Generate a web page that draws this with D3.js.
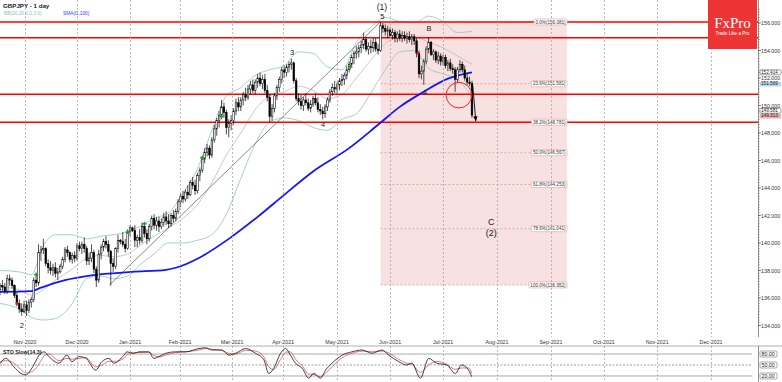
<!DOCTYPE html>
<html><head><meta charset="utf-8">
<script src="https://cdn.jsdelivr.net/npm/d3@7"></script>
<style>body{margin:0;background:#fff;overflow:hidden}svg{display:block;font-family:"Liberation Sans",Arial,sans-serif}</style>
</head><body><svg id="c" width="782" height="382"></svg>
<script>
// ---------- DATA ----------
const monthLabels = ["Nov-2020","Dec-2020","Jan-2021","Feb-2021","Mar-2021","Apr-2021","May-2021","Jun-2021","Jul-2021","Aug-2021","Sep-2021","Oct-2021","Nov-2021","Dec-2021"];
const monthTickIdx = [10.4,32,54,74.8,96.4,117.6,140,162,184,206.4,228.8,250.8,272.9,295.3];

const opens = [136.6,136.9,136.8,136.5,137.4,137.3,136.9,136.2,135.6,135.2,
135.0,135.5,135.1,135.7,135.9,137.3,137.1,139.3,139.5,139.6,
138.5,138.2,138.0,138.2,137.8,137.9,138.3,138.8,139.5,139.3,
138.8,139.1,138.9,139.8,139.6,139.9,139.6,138.7,138.9,139.3,
138.1,137.3,139.2,139.7,140.1,139.9,139.4,138.5,138.3,139.6,
140.2,140.1,139.9,139.6,140.8,141.1,140.9,140.2,140.4,140.2,
141.2,140.7,140.3,141.2,141.8,141.3,141.6,141.2,141.5,141.9,
141.6,141.4,142.0,141.8,142.3,143.0,143.4,143.2,143.7,143.5,
144.4,144.2,143.8,144.9,145.3,146.1,146.6,146.9,146.4,147.5,
148.3,148.9,149.3,149.9,149.5,148.4,148.7,148.9,149.6,150.2,
149.9,150.4,150.8,150.6,151.2,151.5,151.1,151.7,152.0,151.6,
151.9,151.1,150.6,149.2,149.8,150.7,151.3,151.9,152.6,152.4,
152.8,153.0,153.1,151.8,150.5,150.3,150.0,150.4,150.2,149.8,
150.1,150.5,150.2,149.7,149.6,149.4,149.9,150.4,151.0,151.3,
151.2,151.5,151.8,151.9,152.2,152.6,153.0,153.5,153.8,153.9,
154.2,154.4,154.8,154.1,154.3,154.2,154.6,154.1,154.0,155.8,
155.6,155.4,155.5,155.1,155.3,154.9,155.2,154.9,155.1,154.9,
155.0,154.8,155.0,154.7,153.8,152.3,152.5,153.2,154.1,154.6,
153.7,153.9,153.3,153.6,153.2,153.5,152.9,153.1,152.7,152.6,
151.9,152.6,153.0,152.6,152.0,151.7,151.6];
const highs = [137.1,137.3,137.1,137.7,137.7,137.5,137.0,136.4,135.9,135.6,
135.8,135.8,135.9,136.1,137.5,137.8,139.9,139.8,140.3,139.7,
138.8,138.7,138.5,138.6,138.2,138.5,139.0,139.7,139.8,139.4,
139.3,139.4,140.0,140.1,140.1,140.4,139.8,139.3,139.9,139.5,
138.3,139.5,139.9,140.3,140.5,140.2,139.5,138.9,139.7,140.6,
140.3,140.8,140.3,141.0,141.3,141.2,141.3,140.6,141.0,141.5,
141.5,141.0,141.4,142.0,142.1,141.9,141.9,141.8,142.2,142.3,
142.1,142.2,142.4,142.5,143.2,143.6,143.8,143.9,144.2,144.6,
144.8,144.6,145.1,145.5,146.3,146.9,147.2,147.1,147.7,148.6,
149.1,149.6,150.4,150.2,149.7,149.0,149.3,149.8,150.5,150.6,
150.6,151.0,151.3,151.5,151.8,151.9,151.9,152.3,152.4,152.2,
152.3,151.5,150.8,150.1,150.9,151.5,152.1,152.8,152.9,153.0,
153.2,153.4,153.2,152.0,150.9,150.8,150.6,150.9,150.5,150.4,
150.7,150.9,150.6,150.1,149.9,150.1,150.6,151.2,151.6,151.8,
151.7,152.0,152.3,152.4,152.9,153.2,153.7,154.0,154.3,154.4,
154.7,155.3,155.0,154.6,154.8,154.9,154.9,154.5,156.08,156.0,
155.9,155.8,155.7,155.6,155.5,155.4,155.5,155.4,155.4,155.3,
155.4,155.2,155.2,154.9,154.0,152.9,153.4,154.3,154.95,154.7,
154.1,154.0,153.9,153.8,153.7,153.7,153.3,153.4,153.0,152.8,
152.8,153.3,153.2,152.9,152.3,152.1,151.8];
const lows = [136.2,136.5,136.3,136.3,136.9,136.7,136.0,135.4,134.9,134.7,
134.9,134.7,134.9,135.3,135.7,136.8,136.9,138.7,139.2,138.3,
137.8,137.7,137.6,137.5,137.3,137.8,138.1,138.6,139.0,138.6,
138.5,138.6,138.7,139.4,139.2,139.3,138.4,138.4,138.6,137.8,
136.8,137.1,138.8,139.4,139.6,139.0,136.9,137.9,138.1,139.3,
139.9,139.7,139.3,139.5,140.5,140.8,139.7,139.7,139.9,140.0,
140.4,139.9,140.1,140.9,141.0,140.9,140.8,141.0,141.2,141.3,
141.1,141.2,141.5,141.6,142.1,142.6,142.9,143.0,143.2,143.4,
143.9,143.5,143.6,144.5,145.1,145.8,146.3,146.1,146.2,147.3,
147.8,148.4,149.0,149.1,147.9,147.7,148.2,148.6,149.3,149.6,
149.6,150.0,150.3,150.4,150.8,150.9,150.8,151.3,151.4,151.2,
150.9,150.3,148.8,148.9,149.5,150.4,151.0,151.6,152.0,152.1,
152.4,152.6,151.6,150.3,150.0,149.7,149.6,150.0,149.6,149.5,
149.9,150.0,149.5,149.3,149.0,149.1,149.6,150.2,150.7,150.9,
150.8,151.1,151.4,151.5,151.9,152.4,152.8,153.0,153.4,153.5,
153.8,154.1,153.9,153.7,153.8,153.9,153.9,153.7,153.9,155.3,
155.1,154.9,154.9,154.8,154.6,154.6,154.7,154.6,154.7,154.5,
154.6,154.4,154.4,153.5,152.0,151.9,151.5,153.0,153.8,153.6,
153.3,153.1,153.0,152.9,152.9,152.7,152.5,152.5,152.3,151.0,
151.7,152.4,152.4,151.8,151.5,151.4,149.1];
const closes = [136.9,136.8,136.5,137.4,137.3,136.9,136.2,135.6,135.2,135.0,
135.5,135.1,135.7,135.9,137.3,137.1,139.3,139.5,139.6,138.5,
138.2,138.0,138.2,137.8,137.9,138.3,138.8,139.5,139.3,138.8,
139.1,138.9,139.8,139.6,139.9,139.6,138.7,138.9,139.3,138.1,
137.3,139.2,139.7,140.1,139.9,139.4,138.5,138.3,139.6,140.2,
140.1,139.9,139.6,140.8,141.1,140.9,140.2,140.4,140.2,141.2,
140.7,140.3,141.2,141.8,141.3,141.6,141.2,141.5,141.9,141.6,
141.4,142.0,141.8,142.3,143.0,143.4,143.2,143.7,143.5,144.4,
144.2,143.8,144.9,145.3,146.1,146.6,146.9,146.4,147.5,148.3,
148.9,149.3,149.9,149.5,148.4,148.7,148.9,149.6,150.2,149.9,
150.4,150.8,150.6,151.2,151.5,151.1,151.7,152.0,151.6,151.9,
151.1,150.6,149.2,149.8,150.7,151.3,151.9,152.6,152.4,152.8,
153.0,153.1,151.8,150.5,150.3,150.0,150.4,150.2,149.8,150.1,
150.5,150.2,149.7,149.6,149.4,149.9,150.4,151.0,151.3,151.2,
151.5,151.8,151.9,152.2,152.6,153.0,153.5,153.8,153.9,154.2,
154.4,154.8,154.1,154.3,154.2,154.6,154.1,154.0,155.8,155.6,
155.4,155.5,155.1,155.3,154.9,155.2,154.9,155.1,154.9,155.0,
154.8,155.0,154.7,153.8,152.3,152.5,153.2,154.1,154.6,153.7,
153.9,153.3,153.6,153.2,153.5,152.9,153.1,152.7,152.6,151.9,
152.6,153.0,152.6,152.0,151.7,151.6,149.3];

// SMA(100) (bar index -> value)
const smaIdx = [0,13,17,27,38,55,69,73,83,95,107,118,130,145,157,166,176,186,196];
const smaVal = [136.45,136.5,136.75,137.3,137.65,137.9,138.05,138.2,138.95,140.3,141.9,143.5,145.2,146.9,148.6,149.9,151.0,151.95,152.41];

// Bollinger bands
const bbIdx   = [0,8,13,18,23,30,36,42,47,53,58,64,70,76,82,88,94,100,106,112,118,124,130,136,142,148,154,160,166,172,178,184,190,196];
const bbUpper = [138.0,137.9,137.7,139.8,140.6,140.6,140.3,140.5,140.6,140.8,141.2,141.8,142.2,143.6,145.4,148.2,150.7,151.3,152.2,152.6,152.9,153.9,153.8,152.8,152.6,154.6,155.7,156.4,156.1,156.0,156.5,156.1,155.3,155.4];
const bbMid   = [136.8,136.6,136.2,136.6,137.3,138.1,138.9,139.1,139.0,139.2,139.8,140.5,141.1,141.8,142.8,144.4,146.4,148.0,149.7,150.7,151.0,151.4,151.1,150.5,150.8,152.0,153.3,154.5,155.0,155.0,154.6,154.2,153.6,153.0];
const bbLower = [135.6,135.2,134.6,134.4,134.5,135.6,137.4,137.6,137.4,137.6,138.4,139.2,140.0,140.0,140.2,140.6,142.1,144.7,147.2,148.8,149.1,148.9,148.4,148.2,149.0,149.4,150.9,152.6,153.9,154.0,152.7,152.3,151.9,150.6];

// Stochastic slow (14,3)
const stoIdx = [0,2.4,5.8,8.6,10.7,13.3,16.9,18.3,20.3,24.5,27.8,29.9,32.8,35.6,39.7,42.3,45.2,47.3,51.5,52.7,55.6,57.7,61.8,63.9,66,68.8,72.9,77.1,82.6,85.4,88,92.1,95,97.8,102,106.1,109.6,111.6,113.7,116.5,118.6,120.6,122.7,125.5,128.2,130.3,133.1,135.2,137.9,142.1,146.2,150.4,154.5,158.6,161.4,165.6,168.9,171,174.6,178,181.3,185.5,189.1,191.7,194.6,195.9];
const stoK = [54,68,45,27,23,42,82,86,73,55,77,59,73,69,36,59,68,55,77,86,82,86,86,68,73,82,86,86,95,97,91,91,77,82,95,82,64,27,41,82,95,77,55,41,14,27,14,36,55,77,86,91,82,91,77,59,50,55,14,68,55,50,27,50,36,18];
const stoD = [58,62,55,38,28,32,60,75,80,62,68,66,68,70,45,50,60,60,68,78,83,84,85,76,72,77,84,86,91,95,93,90,82,80,90,88,72,45,38,65,85,86,66,48,25,24,18,28,45,70,82,88,86,88,83,65,55,52,30,50,60,52,38,42,42,28];

const hLevels = [156.081,154.93,150.82,148.781];
const fibPct = ["0.0%","23.6%","38.2%","50.0%","61.8%","78.6%","100.0%"];
const fibVal = [156.081,151.581,148.781,146.567,144.253,141.041,136.952];
const fibRange = [158,235.5];

const priceTicks = [134,136,138,140,142,144,146,148,150,152,154,156];
const sideLabels = [
  {t:"152.414", v:152.414, kind:"box"},
  {t:"151.569", v:151.569, kind:"blue"},
  {t:"149.581", v:149.581, kind:"box"},
  {t:"149.313", v:149.313, kind:"pink"}];
const stoLevels = [80,50,20];

const waveText = ["(1)","5","3","4","2","A","B","C","(2)"];
const waveIdx  = [158.6,158.8,121.3,134.2,9.1,176.5,178.2,204,204];
const waveVal  = [157.2,156.5,153.85,148.62,134.0,150.95,155.6,141.55,140.72];
const waveSize = [8.5,7.5,7.5,7.5,7.5,7,7.5,9,9];

const greenMarks = [[15,137.7],[53,140.8],[60,141.4],[84,146.2],[92,149.2],[145.5,152.8]];
const redMarks = [[7,135.6],[173.5,153.8]];
const trendIdx = [45.5,158], trendVal = [136.95,156.08];
const arrowIdx = [196.3,197.6], arrowVal = [151.5,148.85];
const circleIdx = 190.6, circleVal = 150.75;

// ---------- SCALES ----------
const W=782, H=382, plotR=758, mainTop=0, mainBot=337, stoTop=346, stoBot=382;
const x = d3.scaleLinear().domain([0,312]).range([0,751.3]);
const y = d3.scaleLinear().domain([148,156]).range([133,23]);
const ys = d3.scaleLinear().domain([0,100]).range([383.3,346.7]);

const svg = d3.select("#c");
svg.append("rect").attr("width",W).attr("height",H).attr("fill","#fff");
svg.append("defs").append("clipPath").attr("id","mc").append("rect").attr("x",0).attr("y",mainTop).attr("width",plotR).attr("height",mainBot-mainTop);
svg.select("defs").append("clipPath").attr("id","sc").append("rect").attr("x",0).attr("y",stoTop).attr("width",plotR-6).attr("height",stoBot-stoTop);
const g = svg.append("g").attr("clip-path","url(#mc)");

// fib box
g.append("rect").attr("x",x(fibRange[0])).attr("width",x(fibRange[1])-x(fibRange[0]))
 .attr("y",y(fibVal[0])).attr("height",y(fibVal[6])-y(fibVal[0])).attr("fill","#f8e1e1");

// grid
monthTickIdx.forEach(t=>{
  svg.append("line").attr("x1",Math.round(x(t))+0.5).attr("x2",Math.round(x(t))+0.5).attr("y1",mainTop).attr("y2",mainBot)
   .attr("stroke","#a8a8a8").attr("stroke-width",0.8).attr("stroke-dasharray","2,2");
  svg.append("line").attr("x1",Math.round(x(t))+0.5).attr("x2",Math.round(x(t))+0.5).attr("y1",stoTop).attr("y2",stoBot)
   .attr("stroke","#a8a8a8").attr("stroke-width",0.8).attr("stroke-dasharray","2,2");
});

// fib dashed lines
fibVal.forEach(v=>{
  g.append("line").attr("x1",x(fibRange[0])).attr("x2",x(fibRange[1])).attr("y1",y(v)).attr("y2",y(v))
   .attr("stroke","#e09a9a").attr("stroke-width",0.8).attr("stroke-dasharray","2,2");
});

// Bollinger
const mk = (idx,vals)=>d3.line().x((d,i)=>x(idx[i])).y(d=>y(d)).curve(d3.curveMonotoneX)(vals);
g.append("path").attr("d",mk(bbIdx,bbUpper)).attr("fill","none").attr("stroke","#9cc8c8").attr("stroke-width",0.9);
g.append("path").attr("d",mk(bbIdx,bbLower)).attr("fill","none").attr("stroke","#9cc8c8").attr("stroke-width",0.9);
g.append("path").attr("d",mk(bbIdx,bbMid)).attr("fill","none").attr("stroke","#a9b4b4").attr("stroke-width",0.7);

// trendline
g.append("line").attr("x1",x(trendIdx[0])).attr("y1",y(trendVal[0])).attr("x2",x(trendIdx[1])).attr("y2",y(trendVal[1]))
 .attr("stroke","#555").attr("stroke-width",0.7);

// horizontal red lines
hLevels.forEach(v=>{
  g.append("line").attr("x1",0).attr("x2",plotR).attr("y1",y(v)).attr("y2",y(v)).attr("stroke","#ff0000").attr("stroke-width",1.5);
});

// SMA
g.append("path").attr("d",mk(smaIdx,smaVal)).attr("fill","none").attr("stroke","#1414ff").attr("stroke-width",1.8);

// candles
const bars = closes.map((c,i)=>({i,o:opens[i],h:highs[i],l:lows[i],c}));
g.selectAll("line.wk").data(bars).join("line").attr("class","wk")
 .attr("x1",d=>x(d.i)).attr("x2",d=>x(d.i)).attr("y1",d=>y(d.h)).attr("y2",d=>y(d.l))
 .attr("stroke","#000").attr("stroke-width",0.7);
g.selectAll("rect.bd").data(bars).join("rect").attr("class","bd")
 .attr("x",d=>x(d.i)-0.8).attr("width",1.6)
 .attr("y",d=>y(Math.max(d.o,d.c))).attr("height",d=>Math.max(0.7,Math.abs(y(d.o)-y(d.c))))
 .attr("fill",d=>d.c>=d.o?"#fff":"#000").attr("stroke","#000").attr("stroke-width",0.55);

// markers
greenMarks.forEach(([i,v])=>{
  g.append("path").attr("d",d3.symbol(d3.symbolCross,10)()).attr("transform",`translate(${x(i)},${y(v)})`).attr("fill","#2a9a2a");
});
redMarks.forEach(([i,v])=>{
  g.append("path").attr("d",d3.symbol(d3.symbolSquare,7)()).attr("transform",`translate(${x(i)},${y(v)})`).attr("fill","#d02020");
});

// circle
g.append("circle").attr("cx",x(circleIdx)).attr("cy",y(circleVal)).attr("r",12.8).attr("fill","none").attr("stroke","#ff2020").attr("stroke-width",1);

// arrow
const ax1=x(arrowIdx[0]), ay1=y(arrowVal[0]), ax2=x(arrowIdx[1]), ay2=y(arrowVal[1]);
g.append("line").attr("x1",ax1).attr("y1",ay1).attr("x2",ax2).attr("y2",ay2).attr("stroke","#000").attr("stroke-width",0.9);
const ang = Math.atan2(ay2-ay1, ax2-ax1);
const ah = [[ax2,ay2],[ax2-5*Math.cos(ang)+2.2*Math.sin(ang), ay2-5*Math.sin(ang)-2.2*Math.cos(ang)],[ax2-5*Math.cos(ang)-2.2*Math.sin(ang), ay2-5*Math.sin(ang)+2.2*Math.cos(ang)]];
g.append("path").attr("d","M"+ah.map(p=>p.join(",")).join("L")+"Z").attr("fill","#000");

// wave labels
waveText.forEach((t,k)=>{
  g.append("text").attr("x",x(waveIdx[k])).attr("y",y(waveVal[k])).attr("text-anchor","middle").attr("dominant-baseline","central")
   .attr("font-size",waveSize[k]).attr("fill","#222").text(t);
});

// fib labels
fibVal.forEach((v,k)=>{
  const t = g.append("text").attr("font-size",4.6).attr("fill","#333").attr("dominant-baseline","central")
    .text(`${fibPct[k]}(${v.toFixed(3)})`);
  const w = t.node().getComputedTextLength();
  const xr = x(fibRange[1]);
  g.insert("rect","text:last-of-type").attr("x",xr-w-3).attr("y",y(v)-3).attr("width",w+3).attr("height",6).attr("rx",1)
   .attr("fill","#fff").attr("stroke","#e2a0a0").attr("stroke-width",0.6);
  t.attr("x",xr-w-1.5).attr("y",y(v)+0.2);
  t.raise();
});

// header
svg.append("text").attr("x",3).attr("y",8).attr("font-size",6.2).attr("font-weight","bold").attr("fill","#222").text("GBPJPY - 1 day");
svg.append("text").attr("x",4).attr("y",15).attr("font-size",4.8).attr("fill","#8fbcbc").text("BB(20,20,2.0,3.0)");
svg.append("text").attr("x",63).attr("y",15).attr("font-size",4.8).attr("fill","#3a3aff").text("SMA(C,100)");

// logo
svg.append("rect").attr("x",708).attr("y",0).attr("width",49).attr("height",49).attr("fill","#ec3434");
svg.append("text").attr("x",732.5).attr("y",28).attr("text-anchor","middle").attr("font-family","'Liberation Serif',serif")
 .attr("font-size",15).attr("fill","#fff").text("FxPro");
svg.append("text").attr("x",732.5).attr("y",35).attr("text-anchor","middle").attr("font-size",4.6).attr("fill","#fff").text("Trade Like a Pro");

// right price axis
svg.append("line").attr("x1",plotR+0.5).attr("x2",plotR+0.5).attr("y1",0).attr("y2",mainBot).attr("stroke","#777").attr("stroke-width",0.8);
d3.range(134,157.01,0.2).forEach(v=>{
  if (y(v)<1||y(v)>mainBot) return;
  svg.append("line").attr("x1",plotR).attr("x2",plotR+2).attr("y1",y(v)).attr("y2",y(v)).attr("stroke","#777").attr("stroke-width",0.5);
});
priceTicks.forEach(v=>{
  svg.append("line").attr("x1",plotR).attr("x2",plotR+3).attr("y1",y(v)).attr("y2",y(v)).attr("stroke","#555").attr("stroke-width",0.7);
  svg.append("text").attr("x",761).attr("y",y(v)).attr("dominant-baseline","central").attr("font-size",5.3).attr("fill","#333").text(d3.format(".3f")(v));
});
sideLabels.forEach((s,k)=>{
  const fill = s.kind==="blue"?"#b9d6ec":s.kind==="pink"?"#e6aeae":"#fff";
  const cy = y(s.v) + (s.kind==="pink"?1:(k===2?-0.6:0));
  svg.append("rect").attr("x",760).attr("y",cy-2.5).attr("width",21).attr("height",5).attr("rx",1)
    .attr("fill",fill).attr("stroke",s.kind==="box"?"#444":"none").attr("stroke-width",0.5);
  svg.append("text").attr("x",761).attr("y",cy).attr("dominant-baseline","central").attr("font-size",4.7).attr("fill","#222").text(s.t);
});

// month labels
monthLabels.forEach((m,k)=>{
  const t = svg.append("text").attr("y",341.5).attr("dominant-baseline","central").attr("font-size",5.3).attr("fill","#333").attr("text-anchor","middle").text(m);
  const w = t.node().getComputedTextLength();
  t.attr("x",Math.max(w/2+2, x(monthTickIdx[k])));
});

// STO panel
svg.append("line").attr("x1",0).attr("x2",W).attr("y1",stoTop).attr("y2",stoTop).attr("stroke","#999").attr("stroke-width",0.8);
svg.append("line").attr("x1",plotR+0.5).attr("x2",plotR+0.5).attr("y1",stoTop).attr("y2",stoBot).attr("stroke","#777").attr("stroke-width",0.8);
stoLevels.forEach(v=>{
  svg.append("line").attr("x1",0).attr("x2",plotR-6).attr("y1",ys(v)).attr("y2",ys(v))
   .attr("stroke",v===50?"#777":"#aaa").attr("stroke-width",v===50?0.7:1).attr("stroke-dasharray",v===50?"2,1.5":null);
  svg.append("rect").attr("x",760).attr("y",ys(v)-3).attr("width",17).attr("height",6).attr("rx",1).attr("fill","#fff").attr("stroke","#555").attr("stroke-width",0.5);
  svg.append("text").attr("x",761.5).attr("y",ys(v)).attr("dominant-baseline","central").attr("font-size",5.3).attr("fill","#222").text(v.toFixed(2));
});
const sg = svg.append("g").attr("clip-path","url(#sc)");
const ml = (vals)=>d3.line().x((d,i)=>x(stoIdx[i])).y(d=>ys(d)).curve(d3.curveMonotoneX)(vals);
sg.append("path").attr("d",ml(stoD)).attr("fill","none").attr("stroke","#e05050").attr("stroke-width",0.8);
sg.append("path").attr("d",ml(stoK)).attr("fill","none").attr("stroke","#111").attr("stroke-width",0.8);
svg.append("text").attr("x",3).attr("y",351.5).attr("dominant-baseline","central").attr("font-size",5.3).attr("font-weight","bold").attr("fill","#222").text("STO Slow(14,3)");
</script></body></html>
